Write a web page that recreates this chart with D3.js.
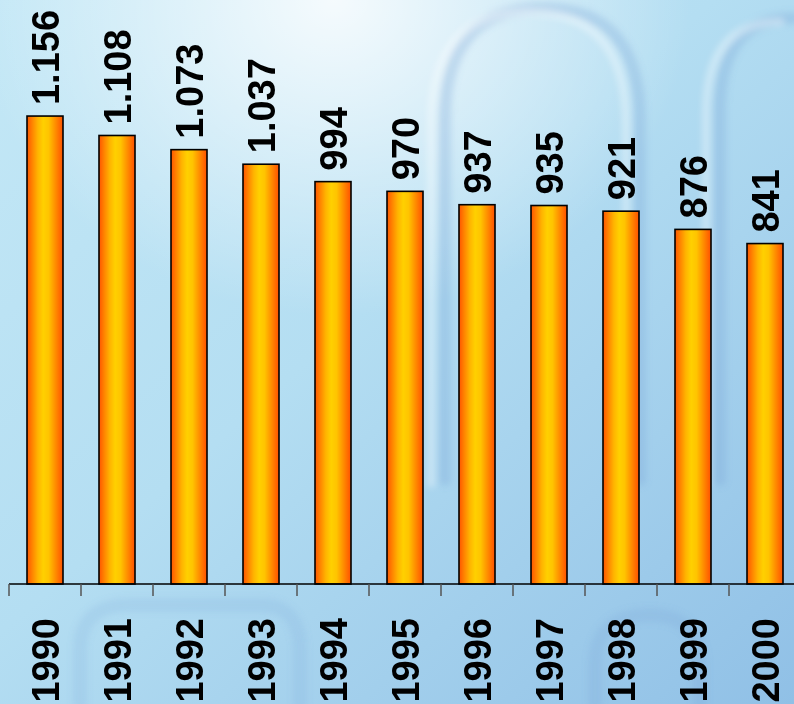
<!DOCTYPE html>
<html>
<head>
<meta charset="utf-8">
<script src="https://cdn.jsdelivr.net/npm/d3@7"></script>
<style>
  html, body { margin: 0; padding: 0; overflow: hidden; }
  svg { display: block; }
  text { font-family: "Liberation Sans", Arial, sans-serif; font-weight: bold; }
</style>
</head>
<body>
<div id="chart"></div>
<script>
const years = ["1990", "1991", "1992", "1993", "1994", "1995", "1996", "1997", "1998", "1999", "2000"]
const values = [1156, 1108, 1073, 1037, 994, 970, 937, 935, 921, 876, 841]

const width = 794
const height = 704
const baseY = 584

const svg = d3.select("#chart").append("svg")
  .attr("width", width)
  .attr("height", height)

const defs = svg.append("defs")

// background wash
let bg = defs.append("linearGradient").attr("id", "bg")
  .attr("x1", "0").attr("y1", "0").attr("x2", "1").attr("y2", "1")
bg.append("stop").attr("offset", "0%").attr("stop-color", "#c4e8f6")
bg.append("stop").attr("offset", "45%").attr("stop-color", "#b4def2")
bg.append("stop").attr("offset", "100%").attr("stop-color", "#90c0e6")

let glow = defs.append("radialGradient").attr("id", "glow")
  .attr("cx", "0.42").attr("cy", "0.0").attr("r", "0.45")
glow.append("stop").attr("offset", "0%").attr("stop-color", "#ffffff").attr("stop-opacity", 0.85)
glow.append("stop").attr("offset", "100%").attr("stop-color", "#ffffff").attr("stop-opacity", 0)

defs.append("filter").attr("id", "soft")
  .attr("x", "-20%").attr("y", "-20%").attr("width", "140%").attr("height", "140%")
  .append("feGaussianBlur").attr("stdDeviation", 3)

// bar fill, orange edges and yellow middle
let barGrad = defs.append("linearGradient").attr("id", "bar")
  .attr("x1", "0").attr("y1", "0").attr("x2", "1").attr("y2", "0")
;[["0%", "#ff5400"], ["14%", "#ff8200"], ["30%", "#ffb400"], ["45%", "#ffd000"],
  ["60%", "#ffc400"], ["78%", "#ff9000"], ["100%", "#ff5000"]].forEach(s => {
  barGrad.append("stop").attr("offset", s[0]).attr("stop-color", s[1])
})

svg.append("rect").attr("width", width).attr("height", height).attr("fill", "url(#bg)")
svg.append("rect").attr("width", width).attr("height", height).attr("fill", "url(#glow)")

// faint decorative arches in the backdrop
let deco = svg.append("g").attr("fill", "none").attr("stroke-linecap", "round").attr("filter", "url(#soft)")
const arches = [
  "M445,480 L445,120 Q445,8 542,8 Q640,8 640,120 L640,480",
  "M720,480 L720,110 Q720,18 794,18"
]
deco.selectAll("path.arch").data(arches).enter().append("path")
  .attr("class", "arch")
  .attr("d", d => d)
  .attr("stroke", "#7aa6d6")
  .attr("stroke-opacity", 0.3)
  .attr("stroke-width", 12)
deco.selectAll("path.hi").data(arches).enter().append("path")
  .attr("class", "hi")
  .attr("d", d => d)
  .attr("transform", "translate(-14,4)")
  .attr("stroke", "#ffffff")
  .attr("stroke-opacity", 0.35)
  .attr("stroke-width", 8)
deco.append("path")
  .attr("d", "M80,704 L80,650 Q80,605 130,605 L260,605 Q300,605 300,650 L300,704")
  .attr("stroke", "#7aa6d6").attr("stroke-opacity", 0.18).attr("stroke-width", 14)
deco.append("path")
  .attr("d", "M595,704 L595,665 Q595,615 650,615 Q700,615 700,665 L700,704")
  .attr("stroke", "#7aa6d6").attr("stroke-opacity", 0.22).attr("stroke-width", 14)

const x = d3.scaleBand()
  .domain(years)
  .range([9, 801])
  .paddingInner(0.5)
  .paddingOuter(0.25)

const y = d3.scaleLinear()
  .domain([0, 1200])
  .range([baseY, baseY - 1200 * 0.4048])

const bars = svg.append("g")
bars.selectAll("rect").data(values).enter().append("rect")
  .attr("x", (d, i) => x(years[i]))
  .attr("y", d => y(d))
  .attr("width", x.bandwidth())
  .attr("height", d => y(0) - y(d))
  .attr("fill", "url(#bar)")
  .attr("stroke", "#000")
  .attr("stroke-width", 1.6)

const fmt = d => d3.format(",")(d).replace(/,/g, ".")

svg.append("g").selectAll("text").data(values).enter().append("text")
  .attr("transform", (d, i) => "translate(" + (x(years[i]) + x.bandwidth() / 2 + 14) + "," + (y(d) - 11) + ") rotate(-90)")
  .attr("font-size", 38)
  .attr("fill", "#000")
  .text(fmt)

// category axis with ticks at the band edges
let axis = svg.append("g")
axis.append("line")
  .attr("x1", 9).attr("x2", width)
  .attr("y1", baseY).attr("y2", baseY)
  .attr("stroke", "#000").attr("stroke-width", 1.5)
axis.selectAll("line.tick").data(years).enter().append("line")
  .attr("class", "tick")
  .attr("x1", d => x(d) - x.step() * 0.25)
  .attr("x2", d => x(d) - x.step() * 0.25)
  .attr("y1", baseY).attr("y2", baseY + 12)
  .attr("stroke", "#555").attr("stroke-width", 1.5)
axis.selectAll("text").data(years).enter().append("text")
  .attr("transform", d => "translate(" + (x(d) + x.bandwidth() / 2 + 14) + "," + (baseY + 34) + ") rotate(-90)")
  .attr("text-anchor", "end")
  .attr("font-size", 38)
  .attr("fill", "#000")
  .text(d => d)
</script>
</body>
</html>
